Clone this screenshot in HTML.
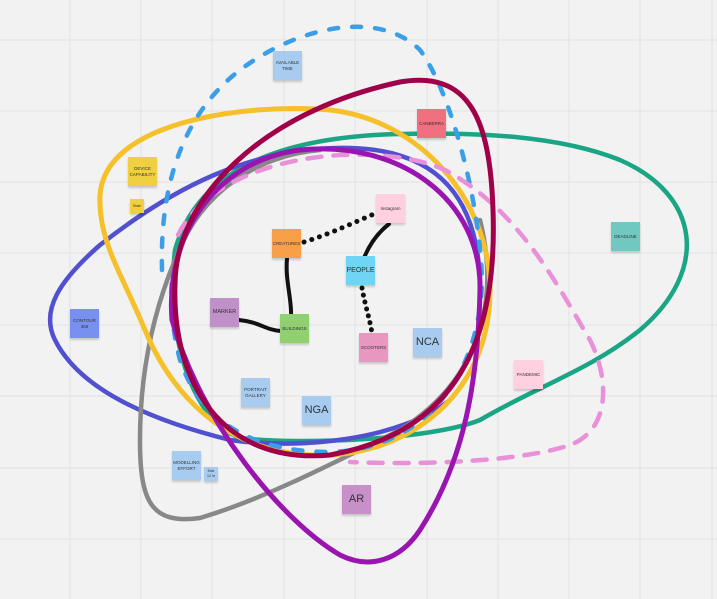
<!DOCTYPE html>
<html><head><meta charset="utf-8"><style>
html,body{margin:0;padding:0;}
body{width:717px;height:599px;background:#f2f2f2;position:relative;overflow:hidden;font-family:"Liberation Sans",sans-serif;}
.n{position:absolute;width:29px;height:29px;display:flex;align-items:center;justify-content:center;text-align:center;font-size:4.5px;line-height:1.3;color:#333;box-shadow:0 2px 2px rgba(0,0,0,0.18);}
.big{font-size:11px;}
.mid{font-size:7px;}
svg{position:absolute;left:0;top:0;}
</style></head><body>
<svg width="717" height="599">
<g stroke="#e3e3e3" stroke-width="1">
<line x1="70" y1="0" x2="70" y2="599"/><line x1="141" y1="0" x2="141" y2="599"/><line x1="212" y1="0" x2="212" y2="599"/><line x1="284" y1="0" x2="284" y2="599"/><line x1="355" y1="0" x2="355" y2="599"/><line x1="427" y1="0" x2="427" y2="599"/><line x1="498" y1="0" x2="498" y2="599"/><line x1="569" y1="0" x2="569" y2="599"/><line x1="640" y1="0" x2="640" y2="599"/><line x1="712" y1="0" x2="712" y2="599"/>
<line x1="0" y1="40" x2="717" y2="40"/><line x1="0" y1="111" x2="717" y2="111"/><line x1="0" y1="182" x2="717" y2="182"/><line x1="0" y1="253" x2="717" y2="253"/><line x1="0" y1="325" x2="717" y2="325"/><line x1="0" y1="396" x2="717" y2="396"/><line x1="0" y1="468" x2="717" y2="468"/><line x1="0" y1="539" x2="717" y2="539"/>
</g>
<g fill="none" stroke-linecap="round" stroke-width="4.5">
<path stroke="#1aa585" d="M175 250 C200 160 300 136 400 134 C480 132 560 136 620 160 C700 195 710 270 640 330 C590 370 540 385 480 420 C430 440 300 445 240 438 C190 420 165 330 175 250"/>
<path stroke="#5050d0" d="M480 290 C480 200 440 150 350 148 C250 146 170 190 100 245 C60 280 40 310 55 340 C80 390 150 420 230 440 C300 450 400 440 450 400"/>
<path stroke="#888888" d="M480 220 C500 300 480 380 400 430 C320 470 260 500 200 518 C150 525 140 500 140 440 C140 380 150 320 175 260 C200 190 260 155 320 150"/>
<path stroke="#f5c02a" stroke-width="5" d="M100 195 C105 120 250 103 330 110 C420 120 490 200 490 290 C490 400 400 460 310 455 C220 450 170 390 145 330 C120 270 98 240 100 195"/>
<path stroke="#3a9ee8" stroke-dasharray="9 14" d="M162 270 C160 200 175 120 240 70 C300 25 380 10 420 50 C450 90 480 200 482 280 C480 380 420 450 330 452 C250 452 200 420 180 360 C172 330 170 300 172 280"/>
<path stroke="#e890d8" stroke-dasharray="14 12" d="M178 235 C220 150 380 140 445 170 C520 210 560 290 590 340 C610 380 610 430 570 445 C520 462 420 465 350 462"/>
<path stroke="#9a15b0" stroke-width="5" d="M300 150 C400 140 482 200 480 290 C478 380 465 460 420 530 C400 560 370 570 340 555 C280 520 200 420 172 320 C165 230 220 160 300 150"/>
<path stroke="#a0004a" stroke-width="5" d="M175 285 C175 200 260 112 400 82 C470 70 490 120 493 210 C497 320 470 430 330 455 C220 465 172 380 175 285"/>
</g>
<g fill="none" stroke="#111" stroke-linecap="round" stroke-width="4">
<path d="M287 259 C285 280 292 300 291 316"/>
<path d="M239 320 C260 322 265 330 281 331"/>
<path d="M389 224 C375 235 368 248 364 258"/>
<path stroke-dasharray="0.1 8" stroke-width="5" d="M304 242 C330 234 355 222 374 214"/>
<path stroke-dasharray="0.1 7" stroke-width="5" d="M362 288 C365 305 370 320 372 333"/>
</g>
</svg>
<div class="n" style="left:273px;top:51px;background:#a8ccf0">AVAILABLE<br>TIME</div>
<div class="n" style="left:417px;top:109px;background:#f07080">CANBERRA</div>
<div class="n" style="left:128px;top:157px;background:#f0d040">DEVICE<br>CAPABILITY</div>
<div class="n" style="left:130px;top:199px;width:14px;height:14px;background:#f0d040;font-size:3.5px">State</div>
<div class="n" style="left:376px;top:194px;background:#ffd0e0">Instagram</div>
<div class="n" style="left:272px;top:229px;background:#f8a048">CREATURES</div>
<div class="n mid" style="left:346px;top:256px;background:#70d4f4">PEOPLE</div>
<div class="n" style="left:611px;top:222px;background:#70c8c0">DEADLINE</div>
<div class="n" style="left:210px;top:298px;background:#c090c8;font-size:5.5px">MARKER</div>
<div class="n" style="left:280px;top:314px;background:#90d070">BUILDINGS</div>
<div class="n" style="left:359px;top:333px;background:#e898c0">SCOOTERS</div>
<div class="n big" style="left:413px;top:328px;background:#a8ccf0">NCA</div>
<div class="n" style="left:70px;top:309px;background:#7890f0">CONTOUR<br>356</div>
<div class="n" style="left:514px;top:360px;background:#ffd0e0">PANDEMIC</div>
<div class="n" style="left:241px;top:378px;background:#a8ccf0">PORTRAIT<br>GALLERY</div>
<div class="n big" style="left:302px;top:396px;background:#a8ccf0">NGA</div>
<div class="n" style="left:172px;top:451px;background:#a8ccf0">MODELLING<br>EFFORT</div>
<div class="n" style="left:204px;top:467px;width:14px;height:14px;background:#a8ccf0;font-size:3.5px">Max<br>12 hr</div>
<div class="n big" style="left:342px;top:485px;background:#c890c8">AR</div>
</body></html>
